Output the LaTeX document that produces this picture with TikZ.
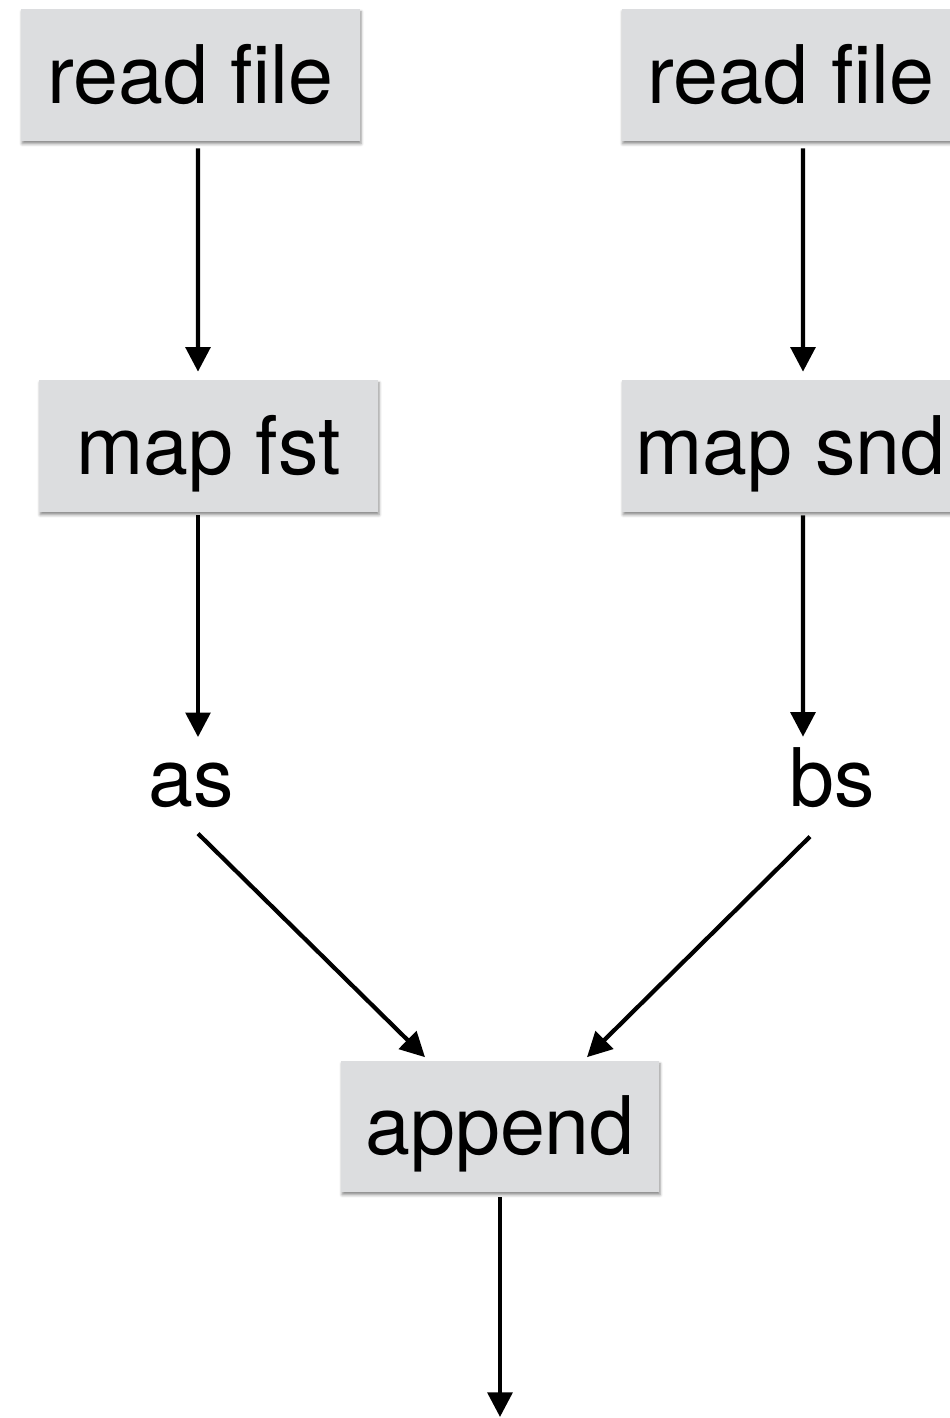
\documentclass[tikz,border=0pt]{standalone}
\usepackage{fontspec}
\setmainfont{TeX Gyre Heros}
\usetikzlibrary{arrows.meta, positioning, shadows.blur}
\definecolor{boxgray}{RGB}{220,221,223}

\begin{document}
\begin{tikzpicture}[x=0.02cm, y=-0.02cm, >={Triangle[length=14pt, width=14pt]},
  font=\fontsize{46}{55}\selectfont,
  stage/.style={fill=boxgray, minimum width=6.78cm, minimum height=2.64cm, inner sep=0pt,
    text height=43pt, text depth=10.7pt,
    blur shadow={shadow xshift=0.6pt, shadow yshift=-1.6pt, shadow blur radius=1.6pt, shadow opacity=45}},
  result/.style={anchor=base, inner sep=0pt},
  flow/.style={->, line width=2.4pt}]
  \useasboundingbox (0,0) rectangle (950,1418);
  \clip (0,0) rectangle (950,1418);

  \node[stage] (rf1) at (190.5,75) {read file};
  \node[stage] (rf2) at (791,75) {read file};
  \node[stage] (mf) at (208.5,446) {map fst};
  \node[stage, minimum width=6.74cm] (ms) at (790.5,446) {map snd};
  \node[result] (as) at (191,806) {as};
  \node[result] (bs) at (832,806) {bs};
  \node[stage, minimum width=6.36cm, minimum height=2.62cm] (ap) at (500,1126.5) {append};
  \coordinate (out) at (500,1417);

  \draw[flow] ([shift={(7.5,7)}]rf1.south) -- ([shift={(-10.5,-8)}]mf.north);
  \draw[flow] ([shift={(12,7)}]rf2.south) -- ([shift={(12.5,-8)}]ms.north);
  \draw[flow] ([shift={(-10.5,3)}]mf.south) -- ([shift={(7,-25)}]as.north);
  \draw[flow] ([shift={(12.5,3)}]ms.south) -- ([shift={(-29,-10)}]bs.north);

  \draw[flow] ([shift={(7,26)}]as.south) -- ([shift={(-75,-3.5)}]ap.north);
  \draw[flow] ([shift={(-22,29)}]bs.south) -- ([shift={(87,-3.5)}]ap.north);
  \draw[flow] ([shift={(0,5)}]ap.south) -- (out);
\end{tikzpicture}
\end{document}
